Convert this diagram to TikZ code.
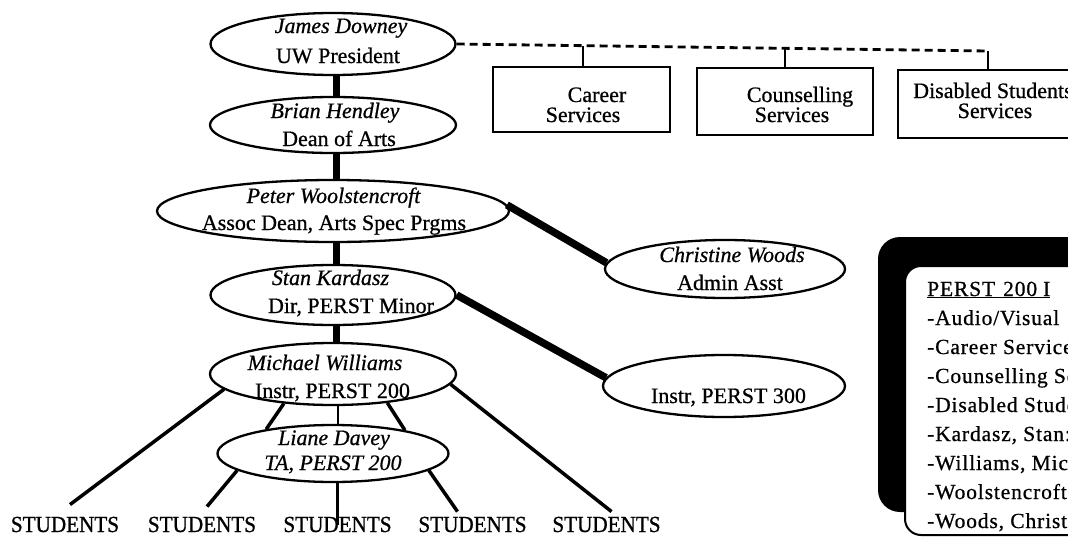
\documentclass[tikz,border=0pt]{standalone}
\usepackage{fontspec}
\setmainfont{Liberation Serif}[FakeBold=0.7]
\newfontfamily\stufont[FakeStretch=0.92,FakeBold=0.9]{Liberation Serif}
\newfontfamily\legfont[LetterSpace=4,FakeBold=0.7]{Liberation Serif}
\usetikzlibrary{shapes.geometric,calc}
\newcommand\orgsize{\fontsize{22}{28}\selectfont}
\begin{document}
\begin{tikzpicture}[x=1pt,y=-1pt,
 org/.style={draw, line width=2.3pt, ellipse, inner sep=0pt},
 nm/.style={font=\orgsize\itshape, anchor=base, inner sep=0pt},
 rl/.style={font=\orgsize, anchor=base, inner sep=0pt},
 svc/.style={draw, line width=2.3pt, inner sep=0pt},
 stu/.style={font=\stufont\fontsize{23}{28}\selectfont, anchor=base, inner sep=0pt},
 leg/.style={font=\legfont\fontsize{21.5}{29}\selectfont, anchor=base west, inner sep=0pt},
 trunk/.style={line width=7pt},
 spoke/.style={line width=7.5pt},
 twig/.style={line width=3.5pt},
 stem/.style={line width=2.5pt},
 svclink/.style={line width=2.8pt, dash pattern=on 8pt off 5pt},
 svctick/.style={line width=2pt}
]
\useasboundingbox (0,0) rectangle (1068,538);
\clip (0,0) rectangle (1068,538);
\fill[white] (0,0) rectangle (1068,538);

% ellipses
\node[org, minimum width=245pt, minimum height=62pt] (jd) at (333,44) {};
\node[org, minimum width=246pt, minimum height=56pt] (bh) at (333,125) {};
\node[org, minimum width=352pt, minimum height=62pt] (pw) at (333,211) {};
\node[org, minimum width=245pt, minimum height=60pt] (sk) at (333,295) {};
\node[org, minimum width=246pt, minimum height=62pt] (mw) at (333,374) {};
\node[org, minimum width=231pt, minimum height=57pt] (ld) at (333,453.5) {};
\node[org, minimum width=240pt, minimum height=58pt] (cw) at (725,269) {};
\node[org, minimum width=242pt, minimum height=62pt] (i3) at (724,386) {};

% service boxes
\node[svc, minimum width=177pt, minimum height=65pt] (career) at (581.5,99.5) {};
\node[svc, minimum width=176pt, minimum height=67pt] (couns) at (785,101.5) {};
\node[svc, minimum width=194pt, minimum height=68pt] (disab) at (995,104) {};

% students
\node[stu] (s1) at (65,532) {STUDENTS};
\node[stu] (s2) at (202,532) {STUDENTS};
\node[stu] (s3) at (337.5,532) {STUDENTS};
\node[stu] (s4) at (472.5,532) {STUDENTS};
\node[stu] (s5) at (606.5,532) {STUDENTS};

% trunk connectors
\foreach \a/\b in {jd/bh, bh/pw, pw/sk, sk/mw}
  \draw[trunk] ([xshift=3pt]\a.south) -- ([xshift=3pt]\b.north);
\draw[spoke] (pw.2) -- (cw.177);
\draw[spoke] (sk.east) -- (i3.176);

% lower connectors
\draw[twig] (mw.188) -- ([xshift=5pt,yshift=12pt]s1.north);
\draw[twig] (mw.355) -- ([xshift=5pt,yshift=5pt]s5.north);
\draw[twig] (mw.211) -- (ld.160);
\draw[twig] (mw.332) -- (ld.18);
\draw[stem] ([xshift=5pt]mw.south) -- ([xshift=5pt]ld.north);
\draw[twig] (ld.190) -- ([xshift=5pt,yshift=10pt]s2.north);
\draw[stem] (ld.south -| s3.center) -- (s3.center);
\draw[twig] (ld.350) -- ([xshift=-15pt,yshift=5pt]s4.north);

% dashed link to services
\coordinate (dend) at (988,51);
\coordinate (t1) at (583,45.7);
\coordinate (t2) at (785,48.3);
\draw[svclink] (jd.east) -- (dend);
\draw[svctick] (t1) -- (t1 |- career.north);
\draw[svctick] (t2) -- (t2 |- couns.north);
\draw[svctick] (dend) -- (dend |- disab.north);

% texts in ellipses
\node[nm] (jdn) at (341,33) {James Downey};
\node[rl] (jdr) at (338,63) {UW President};
\node[nm] (bhn) at (335,118) {Brian Hendley};
\node[rl] (bhr) at (339,146) {Dean of Arts};
\node[nm] (pwn) at (333.5,203) {Peter Woolstencroft};
\node[rl] (pwr) at (334,230) {Assoc Dean, Arts Spec Prgms};
\node[nm] (skn) at (330.5,285) {Stan Kardasz};
\node[rl] (skr) at (351,313) {Dir, PERST Minor};
\node[nm] (mwn) at (325,370) {Michael Williams};
\node[rl] (mwr) at (332.5,398) {Instr, PERST 200};
\node[nm] (ldn) at (334,445) {Liane Davey};
\node[nm] (ldr) at (333,470) {TA, PERST 200};
\node[nm] (cwn) at (732,262) {Christine Woods};
\node[rl] (cwr) at (730,290) {Admin Asst};
\node[rl] (i3r) at (728.5,403) {Instr, PERST 300};

% texts in boxes
\node[rl] (ca1) at (597,102) {Career};
\node[rl] (ca2) at (583,122) {Services};
\node[rl] (co1) at (800,102) {Counselling};
\node[rl] (co2) at (792,122) {Services};
\node[rl, anchor=base west] (di1) at (913,98) {Disabled Students};
\node[rl] (di2) at (995,118) {Services};

% legend box
\fill[black, rounded corners=22pt] (878,237) rectangle (1120,512);
\draw[line width=2pt, fill=white, rounded corners=16pt] (905,266) rectangle (1120,535);
\foreach \t [count=\i from 0] in {{\underline{PERST\hspace{8pt}200\hspace{6pt}I}},
  {-Audio/Visual}, {-Career Services}, {-Counselling Services},
  {-Disabled Students}, {-Kardasz, Stan:}, {-Williams, Michael},
  {-Woolstencroft}, {-Woods, Christine}}
  \node[leg] (lg\i) at ({927},{296+29*\i}) {\t};
\end{tikzpicture}
\end{document}
